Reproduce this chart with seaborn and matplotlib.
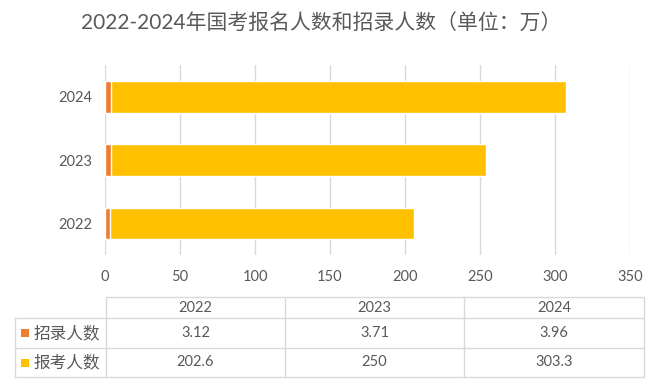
import matplotlib
matplotlib.use("Agg")
import matplotlib.pyplot as plt
import seaborn as sns
import pandas as pd

# data
years = ["2022", "2023", "2024"]
recruit = [3.12, 3.71, 3.96]          # 招录人数
applicants = [202.6, 250, 303.3]      # 报考人数
series_names = ["招录人数", "报考人数"]
value_labels = [["3.12", "3.71", "3.96"], ["202.6", "250", "303.3"]]
x_ticks = [0, 50, 100, 150, 200, 250, 300, 350]
title = "2022-2024年国考报名人数和招录人数（单位：万）"

c_recruit = "#ED7D31"
c_apply = "#FFC000"
grey = "#595959"
grid_c = "#D9D9D9"

sns.set_theme(style="white")
plt.rcParams["font.family"] = ["Lato", "Noto Sans CJK SC", "DejaVu Sans"]

df = pd.DataFrame({"year": years, "recruit": recruit, "apply": applicants})
df["total"] = df["recruit"] + df["apply"]

W, H = 660, 391
fig = plt.figure(figsize=(W / 100, H / 100), dpi=100)
fig.patch.set_facecolor("white")

# bar chart
ax = fig.add_axes([105 / W, 1 - 255 / H, 525 / W, 190 / H])
sns.barplot(data=df, x="total", y="year", order=years[::-1], orient="h",
            color=c_apply, saturation=1, width=0.5, ax=ax)
sns.barplot(data=df, x="recruit", y="year", order=years[::-1], orient="h",
            color=c_recruit, saturation=1, width=0.5, ax=ax)
ax.set_xlim(0, 350)
ax.set_xticks(x_ticks)
ax.grid(axis="x", color=grid_c, linewidth=1)
ax.set_axisbelow(True)
for s in ax.spines.values():
    s.set_visible(False)
ax.tick_params(axis="x", length=0, pad=11, labelsize=10.5, labelcolor=grey)
ax.tick_params(axis="y", length=0, pad=9, labelsize=10.5, labelcolor=grey)
ax.set_xlabel("")
ax.set_ylabel("")

fig.text(321 / W, 1 - 24 / H, title, ha="center", va="center",
         fontsize=15, color=grey)

# data table below the chart
tx = fig.add_axes([0, 0, 1, 1])
tx.set_xlim(0, W)
tx.set_ylim(H, 0)
tx.axis("off")
col_edges = [15, 106, 285, 464, 644]
row_edges = [297, 318, 348, 377]
lw = 1
# horizontal lines
tx.plot([col_edges[1], col_edges[-1]], [row_edges[0]] * 2, color=grid_c, lw=lw)
for y in row_edges[1:]:
    tx.plot([col_edges[0], col_edges[-1]], [y, y], color=grid_c, lw=lw)
# vertical lines
tx.plot([col_edges[0]] * 2, [row_edges[1], row_edges[-1]], color=grid_c, lw=lw)
for x in col_edges[1:]:
    tx.plot([x, x], [row_edges[0], row_edges[-1]], color=grid_c, lw=lw)

def mid(a, i):
    return (a[i] + a[i + 1]) / 2

for j, yr in enumerate(years):
    tx.text(mid(col_edges, j + 1), mid(row_edges, 0) + 1, yr, ha="center",
            va="center", fontsize=10.5, color=grey)
for i, name in enumerate(series_names):
    yc = mid(row_edges, i + 1)
    col = c_recruit if i == 0 else c_apply
    tx.add_patch(plt.Rectangle((21, yc - 4), 8, 8, color=col, lw=0))
    tx.text(34, yc, name, ha="left", va="center", fontsize=12, color=grey)
    for j in range(len(years)):
        tx.text(mid(col_edges, j + 1), yc, value_labels[i][j], ha="center",
                va="center", fontsize=10.5, color=grey)

fig.savefig("out.png", dpi=100, facecolor="white")
